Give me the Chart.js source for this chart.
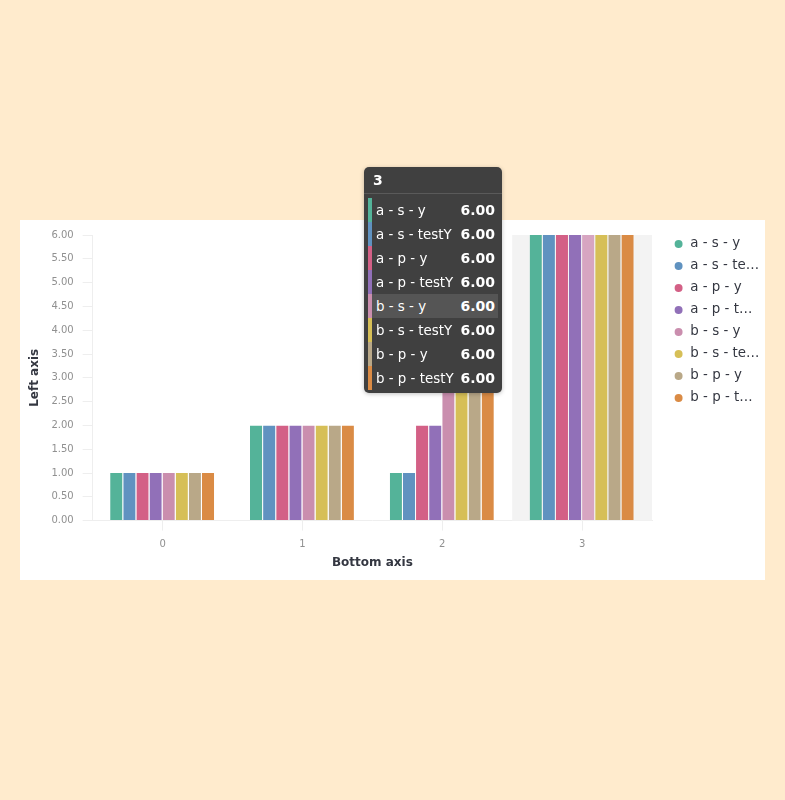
<!DOCTYPE html>
<html><head><meta charset="utf-8">
<script src="https://cdn.jsdelivr.net/npm/chart.js@4.4.1/dist/chart.umd.min.js"></script>
<style>
html,body{margin:0;padding:0;background:#ffebcd;width:785px;height:800px;overflow:hidden;font-family:"DejaVu Sans",sans-serif;}
#card{position:absolute;left:20px;top:220px;width:745px;height:360px;background:#fff;}
#card canvas{position:absolute;left:0;top:0;}
#tip{position:absolute;background:#404040;border-radius:5px;color:#fff;width:138px;box-sizing:border-box;box-shadow:0 1px 4px rgba(0,0,0,0.25);font-family:"DejaVu Sans",sans-serif;}
#tip .ttl{height:26px;line-height:26px;padding-left:9px;font-weight:bold;font-size:14px;border-bottom:1px solid #5a5a5a;}
#tip .list{padding:4px 4px 3px 4px;}
#tip .row{position:relative;height:24px;line-height:24px;font-size:13.4px;}
#tip .row .sw{position:absolute;left:0;top:0;width:4px;height:24px;}
#tip .row .bg{position:absolute;left:4px;right:0;top:0;height:24px;}
#tip .row .lb{position:absolute;left:8px;top:1px;white-space:nowrap;}
#tip .row .vl{position:absolute;right:3px;top:0;font-weight:bold;font-size:14px;}
</style>
</head><body>
<div id="card"><canvas id="c" width="745" height="360"></canvas><div id="tip"></div></div>
<script>
const categories = ['0', '1', '2', '3'];
const seriesNames = ['a - s - y', 'a - s - testY', 'a - p - y', 'a - p - testY', 'b - s - y', 'b - s - testY', 'b - p - y', 'b - p - testY'];
const aSY = [1, 2, 1, 6];
const aSTestY = [1, 2, 1, 6];
const aPY = [1, 2, 2, 6];
const aPTestY = [1, 2, 2, 6];
const bSY = [1, 2, 3, 6];
const bSTestY = [1, 2, 3, 6];
const bPY = [1, 2, 4, 6];
const bPTestY = [1, 2, 4, 6];
const seriesValues = [aSY, aSTestY, aPY, aPTestY, bSY, bSTestY, bPY, bPTestY];
const colors = ['#54b399', '#6092c0', '#d36086', '#9170b8', '#ca8eae', '#d6bf57', '#b9a888', '#da8b45'];
const hoverColors = ['#7fc6b3', '#88acd1', '#e08aa5', '#ab94c8', '#d7a5c1', '#e0cf81', '#cbbea6', '#e4a672'];
const yTicks = [0, 0.5, 1, 1.5, 2, 2.5, 3, 3.5, 4, 4.5, 5, 5.5, 6];
const hoverIndex = 3;
const hoverSeries = 4;

const datasets = seriesNames.map((name, i) => ({
  label: name,
  data: seriesValues[i],
  backgroundColor: ctx => (ctx.dataIndex === hoverIndex && ctx.datasetIndex === hoverSeries) ? hoverColors[i] : colors[i],
  borderColor: 'rgba(255,255,255,0.3)',
  borderWidth: { left: 0, right: 1, top: 0, bottom: 0 },
  borderSkipped: false,
  categoryPercentage: 0.75,
  barPercentage: 1.0
}));

function truncate(ctx, text, maxW) {
  if (ctx.measureText(text).width <= maxW) return text;
  let t = text;
  while (t.length > 0 && ctx.measureText(t + '…').width > maxW) t = t.slice(0, -1);
  return t + '…';
}

const bandPlugin = {
  id: 'band',
  beforeDatasetsDraw(chart) {
    const x = chart.scales.x;
    const w = x.getPixelForTick(1) - x.getPixelForTick(0);
    const c = x.getPixelForTick(hoverIndex);
    const a = chart.chartArea;
    const ctx = chart.ctx;
    ctx.save();
    ctx.fillStyle = '#f3f3f3';
    ctx.fillRect(c - w / 2, a.top, w, a.bottom - a.top);
    ctx.restore();
  }
};

const legendShift = {
  id: 'legendShift',
  afterLayout(chart) {
    const lg = chart.legend;
    const dx = (chart.chartArea.right + 13) - lg.left;
    lg.left += dx; lg.right += dx;
    const dy = (chart.chartArea.top - 6.3) - lg.top;
    lg.top += dy; lg.bottom += dy;
  }
};

const legendFont = 13.4;
const measureCtx = document.createElement('canvas').getContext('2d');
measureCtx.font = legendFont + 'px "DejaVu Sans"';

const chart = new Chart(document.getElementById('c'), {
  type: 'bar',
  data: { labels: categories, datasets },
  plugins: [bandPlugin, legendShift],
  options: {
    responsive: false,
    animation: false,
    layout: { padding: { left: 2, right: 13, top: 13, bottom: 8 } },
    plugins: {
      tooltip: { enabled: false },
      legend: {
        position: 'right',
        align: 'start',
        maxWidth: 100,
        labels: {
          usePointStyle: true,
          boxWidth: 10,
          boxHeight: 5.6,
          padding: 8.6,
          color: '#343741',
          font: { family: 'DejaVu Sans', size: legendFont },
          generateLabels(ch) {
            return ch.data.datasets.map((d, i) => ({
              text: truncate(measureCtx, d.label, 69.5),
              fillStyle: colors[i],
              strokeStyle: colors[i],
              lineWidth: 0,
              pointStyle: 'circle',
              hidden: false,
              datasetIndex: i,
              fontColor: '#343741'
            }));
          }
        }
      }
    },
    scales: {
      x: {
        grid: { display: true, drawOnChartArea: false, tickLength: 10, color: '#eeeeee', offset: false },
        border: { color: '#eeeeee' },
        ticks: { color: '#909090', padding: 8, font: { family: 'DejaVu Sans', size: 10 } },
        title: { display: true, text: 'Bottom axis', color: '#343741', font: { family: 'DejaVu Sans', size: 12, weight: 'bold' }, padding: { top: -3, bottom: 2 } }
      },
      y: {
        min: 0, max: 6,
        afterBuildTicks(scale) { scale.ticks = yTicks.map(v => ({ value: v })); },
        grid: { display: true, drawOnChartArea: false, tickLength: 10, color: '#eeeeee' },
        border: { color: '#eeeeee' },
        ticks: { color: '#909090', padding: 9, font: { family: 'DejaVu Sans', size: 10 }, callback: v => Number(v).toFixed(2) },
        title: { display: true, text: 'Left axis', color: '#343741', font: { family: 'DejaVu Sans', size: 12, weight: 'bold' }, padding: { top: 6, bottom: 0 } }
      }
    }
  }
});

// Tooltip (HTML) for the hovered category
(function () {
  const tip = document.getElementById('tip');
  const x = chart.scales.x;
  const w = x.getPixelForTick(1) - x.getPixelForTick(0);
  const bandLeft = x.getPixelForTick(hoverIndex) - w / 2;
  let html = '<div class="ttl">' + categories[hoverIndex] + '</div><div class="list">';
  seriesNames.forEach((name, i) => {
    html += '<div class="row"><div class="sw" style="background:' + colors[i] + '"></div>' +
      (i === hoverSeries ? '<div class="bg" style="background:#555555"></div>' : '') +
      '<div class="lb">' + name + '</div><div class="vl">' + seriesValues[i][hoverIndex].toFixed(2) + '</div></div>';
  });
  html += '</div>';
  tip.innerHTML = html;
  tip.style.left = Math.round(bandLeft - 10 - 138) + 'px';
  tip.style.top = '-53px';
})();
</script>
</body></html>
